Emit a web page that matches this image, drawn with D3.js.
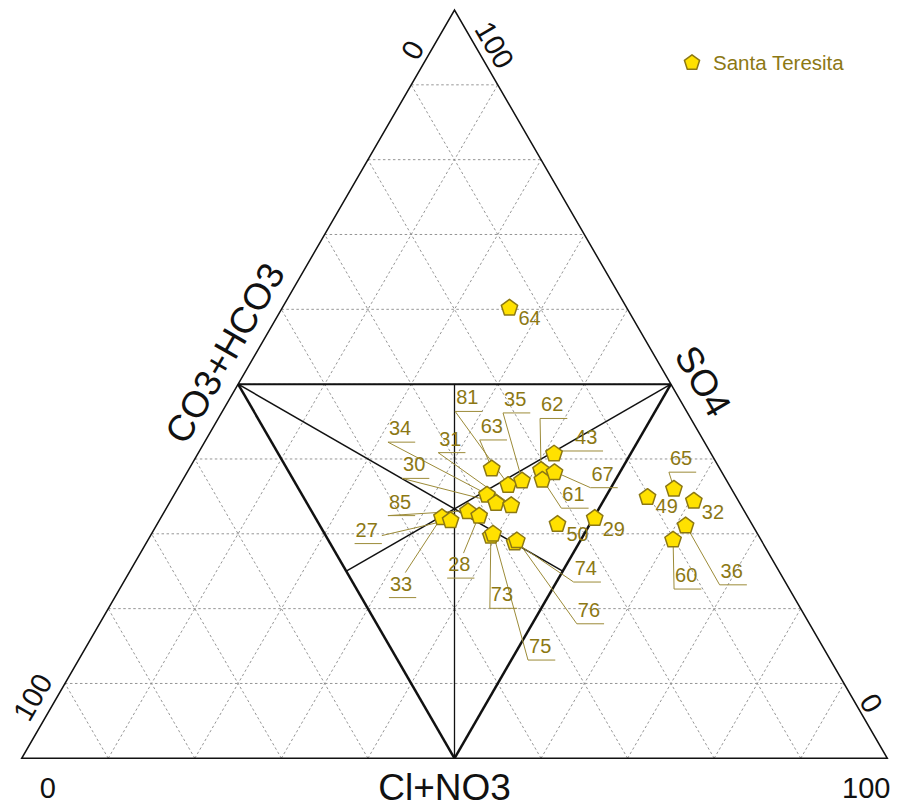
<!DOCTYPE html>
<html>
<head>
<meta charset="utf-8">
<script src="https://cdn.jsdelivr.net/npm/d3@7"></script>
<style>
  body { margin: 0; background: #ffffff; }
  svg { display: block; font-family: "Liberation Sans", Arial, Helvetica, sans-serif; }
</style>
</head>
<body>
<svg id="chart" width="897" height="808"></svg>
<script>
// Anion ternary diagram – Santa Teresita samples (% meq/l)
const sampleIds = ["64","81","63","35","62","61","67","43","34","30","31","33","27","85","28",
                   "73","75","74","76","50","29","49","65","32","36","60"];
const so4     = [60.3, 36.6, 38.8, 37.2, 38.6, 37.3, 38.3, 40.8, 35.3, 34.2, 33.9, 32.3, 31.9, 33.1, 32.5,
                 29.8, 30.1, 28.9, 29.2, 31.4, 32.2, 35.0, 36.1, 34.5, 31.2, 29.3];
const clNo3   = [26.2, 37.9, 34.9, 39.2, 40.7, 41.5, 42.4, 41.1, 36.1, 37.7, 39.6, 32.4, 33.6, 35.0, 36.6,
                 39.3, 39.4, 42.5, 42.6, 46.2, 50.1, 54.8, 57.3, 60.4, 61.1, 60.6];
const co3Hco3 = [13.5, 25.5, 26.3, 23.6, 20.7, 21.2, 19.3, 18.1, 28.6, 28.1, 26.5, 35.3, 34.5, 31.9, 30.9,
                 30.9, 30.5, 28.6, 28.2, 22.4, 17.7, 10.2,  6.6,  5.1,  7.7, 10.1];
const seriesName = "Santa Teresita";
const axisTitles = { left: "CO3+HCO3", right: "SO4", bottom: "Cl+NO3" };
const tickLabels = ["0", "100"];
const gridLevels = [10, 20, 30, 40, 50, 60, 70, 80, 90];

// Label placement (pixel offsets from each marker to its label underline)
const labelPlacement = {
  "64": { dx: 9, dy: 18 },
  "50": { dx: 9, dy: 18 },
  "29": { dx: 8, dy: 19 },
  "49": { dx: 8, dy: 17 },
  "32": { dx: 8, dy: 19 },
  "81": { dx: -53, dy: -73, lead: "L" },
  "63": { dx: -12, dy: -28, lead: "L" },
  "35": { dx: -19, dy: -67, lead: "L" },
  "62": { dx: -1,  dy: -51, lead: "L" },
  "43": { dx: 8,   dy: -2,  lead: "L", inset: 13, width: 41 },
  "67": { dx: 36,  dy: 16,  lead: "L" },
  "61": { dx: 19,  dy: 29,  lead: "L" },
  "65": { dx: -5,  dy: -16, lead: "L" },
  "60": { dx: 1,   dy: 50,  lead: "L" },
  "36": { dx: 34,  dy: 60,  lead: "L" },
  "34": { dx: -99, dy: -52, lead: "L" },
  "30": { dx: -94, dy: -24, lead: "L" },
  "31": { dx: -73, dy: -52, lead: "L" },
  "85": { dx: -80, dy: 5,   lead: "L" },
  "27": { dx: -96, dy: 24,  lead: "R" },
  "33": { dx: -53, dy: 81,  lead: "T" },
  "28": { dx: -32, dy: 63,  lead: "T" },
  "73": { dx: -1,  dy: 73,  lead: "L" },
  "75": { dx: 35,  dy: 127, lead: "L" },
  "74": { dx: 59,  dy: 40,  lead: "L" },
  "76": { dx: 60,  dy: 84,  lead: "L" }
};

const olive = "#8c7814";
const leaderColor = "#9c8b38";
const markerFill = "#ffe100";

const svg = d3.select("#chart");
svg.append("rect").attr("width", 897).attr("height", 808).attr("fill", "#fff");

// Ternary frame: horizontal position from Cl + SO4/2, vertical position from SO4
const xs = d3.scaleLinear().domain([0, 100]).range([21.7, 887.3]);
const ys = d3.scaleLinear().domain([0, 100]).range([758.3, 10]);
const pt = (s, c) => [xs(c + s / 2), ys(s)];
const line = d3.line();

const cornerCO3 = pt(0, 0), cornerCl = pt(0, 100), cornerSO4 = pt(100, 0);

// Dashed 10 % grid, parallel to all three sides
const grid = svg.append("g")
  .attr("fill", "none").attr("stroke", "#8a8a8a")
  .attr("stroke-width", 0.9).attr("stroke-dasharray", "2.5,2.5");
gridLevels.forEach(k => {
  grid.append("path").attr("d", line([pt(k, 0), pt(k, 100 - k)]));          // constant SO4
  grid.append("path").attr("d", line([pt(0, k), pt(100 - k, k)]));          // constant Cl+NO3
  grid.append("path").attr("d", line([pt(0, 100 - k), pt(100 - k, 0)]));    // constant CO3+HCO3
});

// Outer triangle
svg.append("path")
  .attr("d", line([cornerCO3, cornerCl, cornerSO4]) + "Z")
  .attr("fill", "none").attr("stroke", "#111").attr("stroke-width", 1.5)
  .attr("stroke-linejoin", "miter");

// Inner facies lines: midpoint triangle and its medians
const midL = pt(50, 0), midR = pt(50, 50), midB = pt(0, 50);
const structure = svg.append("g").attr("fill", "none").attr("stroke", "#111");
structure.append("path").attr("d", line([midL, midR])).attr("stroke-width", 2);
structure.append("path").attr("d", line([midL, midB])).attr("stroke-width", 2.5);
structure.append("path").attr("d", line([midR, midB])).attr("stroke-width", 2.5);
structure.append("path").attr("d", line([midL, pt(25, 50)])).attr("stroke-width", 1.5);
structure.append("path").attr("d", line([midR, pt(25, 25)])).attr("stroke-width", 1.5);
structure.append("path").attr("d", line([pt(50, 25), midB])).attr("stroke-width", 1.3);

// Pentagon marker path
function pentagon(r) {
  const p = d3.path();
  for (let i = 0; i < 5; i++) {
    const a = -Math.PI / 2 + i * 2 * Math.PI / 5;
    const x = r * Math.cos(a), y = r * Math.sin(a) + r * 0.1;
    if (i === 0) p.moveTo(x, y); else p.lineTo(x, y);
  }
  p.closePath();
  return p.toString();
}

const samples = sampleIds.map((id, i) => {
  const [x, y] = pt(so4[i], clNo3[i]);
  return { id, s: so4[i], c: clNo3[i], a: co3Hco3[i], x, y };
});

// Labels: leader + underline layer
const leaders = svg.append("g").attr("stroke", leaderColor).attr("stroke-width", 1).attr("fill", "none");
const labelText = svg.append("g")
  .attr("fill", olive).attr("font-size", 20);

samples.forEach(d => {
  const lp = labelPlacement[d.id];
  if (!lp.lead) {
    labelText.append("text").attr("x", d.x + lp.dx).attr("y", d.y + lp.dy).text(d.id);
    return;
  }
  const ux = d.x + lp.dx, uy = d.y + lp.dy;
  const inset = lp.inset || 1;
  const t = labelText.append("text").attr("x", ux + inset).attr("y", uy - 7).text(d.id);
  const w = lp.width || (t.node().getComputedTextLength() + 5);
  leaders.append("path").attr("d", line([[ux, uy], [ux + w, uy]]));
  let start;
  if (lp.lead === "L") start = [ux, uy];
  else if (lp.lead === "R") start = [ux + w, uy - 8];
  else start = [ux + w * 0.6, uy - 25];
  leaders.append("path").attr("d", line([start, [d.x, d.y]]));
});

// Sample markers
svg.append("g").selectAll("path")
  .data(samples).join("path")
  .attr("d", pentagon(8.6))
  .attr("transform", d => `translate(${d.x},${d.y})`)
  .attr("fill", markerFill).attr("stroke", olive).attr("stroke-width", 1.5)
  .attr("stroke-linejoin", "round");

// Corner tick labels
const tickG = svg.append("g").attr("fill", "#111").attr("font-size", 29)
  .attr("text-anchor", "middle").attr("dominant-baseline", "central");
function placeTick(text, x, y, angle) {
  tickG.append("text").attr("transform", `translate(${x},${y}) rotate(${angle})`).text(text);
}
// bottom side (Cl+NO3)
placeTick(tickLabels[0], cornerCO3[0] + 26, cornerCO3[1] + 30, 0);
placeTick(tickLabels[1], cornerCl[0] - 21, cornerCl[1] + 30, 0);
// left side (CO3+HCO3): 100 at its own corner, 0 at the apex
placeTick(tickLabels[1], cornerCO3[0] + 11, cornerCO3[1] - 61, -60);
placeTick(tickLabels[0], cornerSO4[0] - 42, cornerSO4[1] + 40, -60);
// right side (SO4): 100 at the apex, 0 at the Cl corner
placeTick(tickLabels[1], cornerSO4[0] + 40, cornerSO4[1] + 35, 60);
placeTick(tickLabels[0], cornerCl[0] - 16, cornerCl[1] - 55, 60);

// Axis titles
const titleG = svg.append("g").attr("fill", "#111").attr("font-size", 37)
  .attr("text-anchor", "middle").attr("dominant-baseline", "central");
titleG.append("text")
  .attr("transform", `translate(${midL[0] - 13},${midL[1] - 31}) rotate(-60)`)
  .text(axisTitles.left);
titleG.append("text")
  .attr("transform", `translate(${midR[0] + 32},${midR[1] - 3}) rotate(60)`)
  .text(axisTitles.right);
titleG.append("text")
  .attr("transform", `translate(${midB[0] - 10},${midB[1] + 29})`)
  .text(axisTitles.bottom);

// Legend
const legend = svg.append("g").attr("transform", "translate(692,62)");
legend.append("path").attr("d", pentagon(8)).attr("fill", markerFill)
  .attr("stroke", olive).attr("stroke-width", 1.5).attr("stroke-linejoin", "round");
legend.append("text").attr("x", 21).attr("y", 0).attr("dominant-baseline", "central")
  .attr("font-size", 20.5).attr("fill", olive).text(seriesName);
</script>
</body>
</html>
